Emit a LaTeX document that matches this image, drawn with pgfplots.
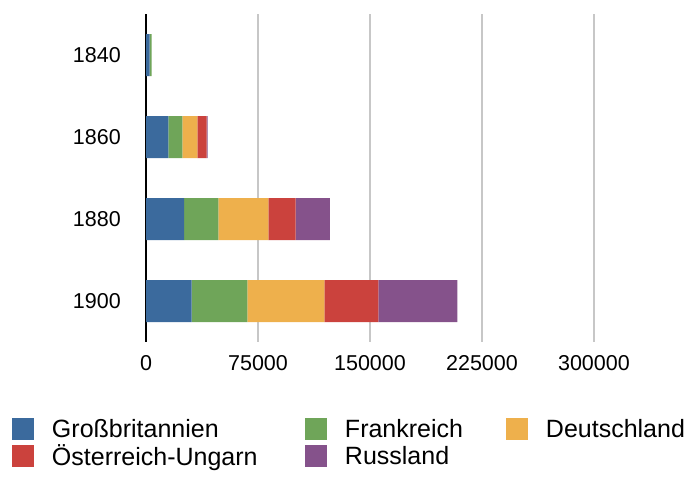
\documentclass[border=0pt]{standalone}
\usepackage{pgfplots}
\pgfplotsset{compat=1.18}
\usepackage{fontspec}
\setmainfont{Liberation Sans}
\definecolor{cGB}{RGB}{59,106,157}
\definecolor{cFR}{RGB}{111,165,89}
\definecolor{cDE}{RGB}{238,176,76}
\definecolor{cAU}{RGB}{203,66,61}
\definecolor{cRU}{RGB}{133,82,139}
\begin{document}
\begin{tikzpicture}[x=1pt,y=1pt]
\path[use as bounding box] (0,0) rectangle (692,476);
\begin{axis}[
  at={(146pt,134pt)}, anchor=south west,
  scale only axis, width=545pt, height=328pt,
  xbar stacked, bar width=42pt,
  xmin=0, xmax=365000,
  ymin=-0.5, ymax=3.5, y dir=reverse,
  ytick={0,1,2,3}, yticklabels={1840,1860,1880,1900},
  xtick={0,75000,150000,225000,300000},
  xticklabels={0,75000,150000,225000,300000},
  scaled ticks=false,
  axis x line*=bottom, x axis line style={draw=none},
  axis y line*=left, y axis line style={black, line width=1.6pt, -},
  xmajorgrids, grid style={black!22, line width=1.6pt},
  major tick length=0pt, tick style={draw=none},
  ticklabel style={font=\fontsize{21.5}{25}\selectfont, inner sep=0pt},
  xticklabel style={anchor=north, yshift=-13pt},
  yticklabel style={anchor=east, xshift=-25pt},
  legend columns=3,
  legend cell align=left,
  legend style={at={(axis description cs:-0.2459,-0.2308)}, anchor=north west,
    draw=none, inner sep=0pt, outer sep=0pt, font=\fontsize{25}{29}\selectfont,
    nodes={inner sep=0pt},
    row sep=5pt,
    /tikz/every odd column/.append style={column sep=18pt},
    /tikz/every even column/.append style={column sep=0pt}},
  legend image code/.code={\fill[#1] (0pt,-11pt) rectangle (22pt,11pt);},
  every axis plot/.append style={draw=none},
]
\addplot[fill=cGB] coordinates {(2400,0) (14960,1) (25450,2) (30600,3)};
\addplot[fill=cFR] coordinates {(1400,0) (9380,1) (22990,2) (37300,3)};
\addplot[fill=cDE] coordinates {(0,0) (10040,1) (33480,2) (51560,3)};
\addplot[fill=cAU] coordinates {(0,0) (6250,1) (18310,2) (36160,3)};
\addplot[fill=cRU] coordinates {(0,0) (670,1) (22990,2) (52900,3)};
\legend{\makebox[253pt][l]{Großbritannien},\makebox[161pt][l]{Frankreich},Deutschland,\makebox[253pt][l]{Österreich-Ungarn},\makebox[161pt][l]{Russland}}
\end{axis}
\end{tikzpicture}
\end{document}
